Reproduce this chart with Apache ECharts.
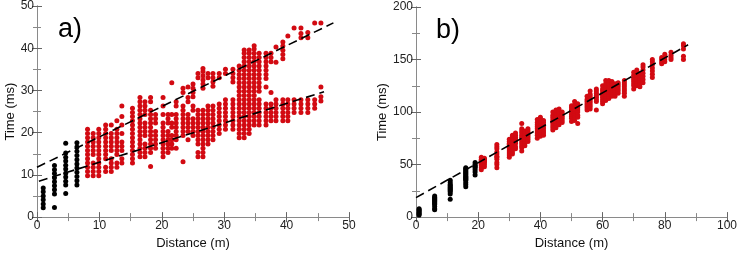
<!DOCTYPE html>
<html>
<head>
<meta charset="utf-8">
<script src="https://cdn.jsdelivr.net/npm/echarts@6/dist/echarts.min.js"></script>
<style>
  html, body { margin: 0; padding: 0; background: #fff; }
  #chart { width: 740px; height: 255px; }
</style>
</head>
<body>
<div id="chart"></div>
<script>
// panel a: columns of [distance, [times...]]
const aBlack = [
  [1.0, [2.2, 3.1, 4.1, 5.0, 6.0, 6.9]],
  [2.8, [2.3, 5.5, 6.5, 7.4, 8.4, 9.3, 10.3, 11.2, 12.2]],
  [4.6, [5.6, 7.6, 8.5, 9.5, 10.4, 11.4, 12.3, 13.3, 14.2, 15.2, 17.5]],
  [6.4, [7.6, 8.6, 9.6, 10.6, 11.6, 12.6, 13.6, 14.6, 15.6, 16.6, 17.6]]
];
const aRed = [
  [8.1, [9.8, 10.8, 11.8, 12.8, 13.8, 14.8, 15.8, 16.8, 17.8, 18.8, 19.8, 20.8]],
  [9.0, [9.8, 10.8, 11.8, 12.8, 14.8, 15.8, 16.8, 17.8, 18.8, 19.8]],
  [9.9, [9.8, 10.8, 11.8, 12.8, 13.8, 14.8, 15.8, 16.8, 17.8, 18.8, 19.8, 20.8]],
  [11.0, [10.8, 11.8, 13.8, 14.8, 15.8, 16.8, 17.8, 18.8, 19.8, 20.8, 21.8]],
  [11.9, [10.8, 11.8, 12.8, 13.8, 15.8, 16.8, 17.8, 18.8, 19.8, 21.8]],
  [12.8, [11.8, 12.8, 14.8, 15.8, 16.8, 17.8, 18.8, 19.8, 20.8, 22.8]],
  [13.6, [12.8, 13.8, 15.8, 16.8, 17.8, 19.8, 21.8, 23.8, 26.3]],
  [15.3, [12.8, 13.8, 14.8, 15.8, 16.8, 17.8, 18.8, 19.8, 20.8, 21.8, 22.8, 23.8, 24.8, 25.8]],
  [16.5, [14.3, 15.3, 16.3, 17.3, 18.3, 19.3, 20.3, 21.3, 22.3, 23.3, 24.3, 25.3, 26.3, 27.3, 28.3]],
  [17.3, [14.3, 15.3, 16.3, 17.3, 19.3, 20.3, 21.3, 22.3, 24.3, 25.3, 26.3, 27.3]],
  [18.2, [12.0, 15.3, 16.3, 17.3, 18.3, 19.3, 20.3, 21.3, 22.3, 23.3, 24.3, 25.3, 27.3, 28.3]],
  [19.0, [16.3, 17.3, 18.3, 19.3, 20.3, 22.3, 23.3, 24.3]],
  [20.2, [14.3, 15.3, 16.3, 17.3, 18.3, 19.3, 20.3, 21.3, 22.3, 24.3, 26.3, 28.3]],
  [21.0, [15.3, 16.3, 17.3, 18.3, 19.3, 20.3, 22.3, 23.3, 24.3]],
  [21.6, [16.3, 17.3, 18.3, 19.3, 21.3, 22.3, 24.3, 31.8]],
  [22.3, [16.3, 18.3, 19.3, 20.3, 21.3, 22.3, 23.3, 24.3, 26.3, 27.3]],
  [23.4, [13.1, 19.3, 20.3, 21.3, 22.3, 23.3, 24.3, 25.3, 26.3, 29.5, 30.5]],
  [24.2, [18.3, 20.3, 21.3, 22.3, 23.3, 24.3, 27.3, 28.3, 30.8]],
  [25.0, [19.3, 20.3, 21.3, 22.3, 23.3, 25.3, 26.3, 28.5, 29.5, 30.5, 31.5]],
  [25.8, [14.3, 15.3, 17.3, 18.3, 19.3, 20.3, 21.3, 22.3, 23.3, 24.3, 25.3, 33.0, 34.0]],
  [26.6, [14.3, 15.3, 16.3, 17.3, 18.3, 19.3, 20.3, 21.3, 22.3, 23.3, 24.3, 25.3, 30.5, 31.5, 32.5, 33.5, 34.5, 35.2]],
  [27.4, [17.3, 18.3, 19.3, 20.3, 21.3, 22.3, 23.3, 24.3, 25.3, 26.3, 33.0, 34.0]],
  [28.2, [18.3, 19.3, 20.3, 21.3, 22.3, 23.3, 24.3, 25.3, 26.3, 31.0, 32.0, 33.0, 34.0]],
  [29.2, [19.8, 20.8, 21.8, 22.8, 23.8, 24.8, 25.8, 26.8, 33.0, 34.0]],
  [30.2, [20.8, 21.8, 22.8, 23.8, 24.8, 25.8, 26.8, 27.8, 34.0, 35.0]],
  [31.4, [20.8, 21.8, 22.8, 23.8, 24.8, 25.8, 26.8, 27.8, 32.0, 33.0, 34.0, 35.0]],
  [32.4, [18.8, 19.8, 20.8, 21.8, 22.8, 23.8, 24.8, 25.8, 26.8, 27.8, 28.8, 29.8, 30.8, 31.8, 32.8, 33.8, 34.8, 35.8]],
  [33.2, [18.8, 19.8, 20.8, 21.8, 22.8, 23.8, 24.8, 25.8, 26.8, 27.8, 28.8, 29.8, 30.8, 31.8, 32.8, 33.8, 34.8, 35.8, 36.8, 37.8, 38.8, 39.6]],
  [34.0, [19.8, 20.8, 21.8, 22.8, 23.8, 24.8, 25.8, 26.8, 27.8, 28.8, 29.8, 30.8, 31.8, 32.8, 33.8, 34.8, 35.8, 36.8, 37.8, 38.8, 39.6]],
  [34.8, [21.8, 22.8, 23.8, 24.8, 25.8, 26.8, 27.8, 28.8, 29.8, 30.8, 31.8, 32.8, 33.8, 34.8, 35.8, 36.8, 37.8, 38.8, 39.8, 40.6]],
  [35.6, [21.8, 22.8, 23.8, 24.8, 25.8, 26.8, 27.8, 29.8, 30.8, 31.8, 32.8, 33.8, 34.8, 35.8, 36.8, 37.8, 38.8]],
  [36.7, [21.8, 22.8, 23.8, 24.8, 25.8, 26.8, 30.8, 32.8, 33.8, 34.8, 35.8, 36.8, 37.8, 38.8]],
  [37.5, [22.8, 23.8, 24.8, 25.8, 26.8, 29.5, 36.8, 37.8, 38.8]],
  [38.3, [22.8, 23.8, 24.8, 25.8, 26.8, 27.8, 36.7, 40.3]],
  [39.4, [22.8, 23.8, 24.8, 25.8, 26.8, 27.8, 37.5, 38.5, 39.5, 40.5, 41.5]],
  [40.2, [22.8, 23.8, 24.8, 25.8, 26.8, 27.8, 42.9]],
  [41.2, [24.8, 25.8, 26.8, 27.8, 44.8]],
  [42.3, [24.8, 25.8, 26.8, 27.8, 42.5, 43.5, 44.8]],
  [43.4, [24.8, 25.8, 26.8, 27.8, 42.5, 43.7]],
  [44.5, [25.8, 26.8, 27.8, 46.0]],
  [45.5, [27.5, 28.5, 30.8, 46.0]]
];
const aFitUpper = [[0, 11.8], [47.5, 46]];
const aFitLower = [[0.3, 8.5], [46, 29.7]];

// panel b
const bBlack = [
  [1, [2, 3, 4, 5, 6, 7, 8]],
  [6, [7, 8, 10, 12, 13, 14, 15, 16, 17, 18, 19, 20]],
  [11, [17, 22, 24, 25, 26, 27, 28, 29, 30, 31, 33, 35]],
  [16, [29, 31, 33, 35, 36, 37, 38, 39, 40, 41, 42, 43, 44, 45, 46, 47]],
  [19, [40, 43, 45, 47, 48, 49, 50, 52]]
];
const bRed = [
  [21, [45, 47, 49, 50, 51, 52, 53, 54, 55, 57]],
  [22, [48, 50, 52, 53, 54, 55, 56]],
  [26, [47, 50, 52, 55, 57, 58, 60, 62, 65, 67, 69]],
  [30, [57, 59, 61, 63, 65, 67, 69, 70, 72, 74]],
  [31, [60, 62, 64, 66, 68, 70, 72, 74, 76, 78]],
  [32, [65, 67, 70, 72, 74, 76, 78, 80]],
  [34, [63, 66, 68, 70, 72, 74, 76, 78, 80, 82, 84, 89]],
  [35, [68, 70, 72, 74, 76, 78, 80, 82]],
  [36, [72, 74, 76, 78, 80, 82, 84]],
  [39, [75, 78, 80, 82, 84, 86, 88, 90, 93]],
  [40, [77, 79, 81, 83, 85, 87, 89, 91, 93, 95]],
  [41, [78, 80, 82, 84, 86, 88, 90, 92]],
  [44, [83, 85, 87, 89, 91, 93, 95, 97, 100]],
  [45, [85, 87, 89, 91, 93, 95, 97, 99, 102]],
  [46, [88, 90, 92, 94, 96, 98, 100, 103]],
  [47, [90, 92, 94, 96, 98, 100]],
  [50, [91, 94, 96, 98, 100, 102, 104, 106]],
  [51, [92, 95, 97, 99, 101, 103, 105, 107, 110]],
  [52, [89, 95, 97, 100, 102, 104, 108]],
  [55, [102, 104, 106, 108, 110, 112, 115]],
  [56, [103, 105, 107, 109, 111, 113, 115, 117, 120]],
  [58, [102, 110, 112, 114, 116, 118, 120, 122]],
  [60, [108, 110, 112, 114, 116, 118, 120, 122, 125]],
  [61, [111, 113, 115, 117, 119, 121, 123, 125, 127, 130]],
  [62, [113, 115, 117, 119, 121, 123, 125, 127, 130]],
  [63, [115, 117, 119, 121, 123, 125, 127, 129]],
  [64, [115, 117, 119, 121, 123, 125, 127]],
  [65, [118, 120, 122, 124, 126, 128]],
  [67, [115, 118, 120, 122, 124, 126, 128, 130]],
  [70, [122, 125, 127, 129, 131, 133, 135, 138]],
  [71, [125, 127, 129, 131, 133, 135, 137, 140]],
  [72, [124, 127, 130, 132, 134, 137]],
  [73, [128, 131, 134, 137, 140, 143, 145]],
  [76, [133, 136, 139, 142, 145, 148, 150]],
  [79, [146, 148, 150, 152]],
  [80, [148, 150, 152, 155]],
  [82, [150, 152, 154, 157]],
  [86, [150, 153, 160, 163, 165]]
];
const bFit = [[0, 18.5], [87.5, 164]];

const RED = "#d20a12";
const FONT = "Liberation Sans";

const chart = echarts.init(document.getElementById("chart"));

// flatten columns into [x, y] points
function pts(cols) {
  const out = [];
  cols.forEach(([x, ys]) => ys.forEach((y) => out.push([x, y])));
  return out;
}

function axisPair(gridIndex, min, max, interval, name, nameGap, isX) {
  const main = {
    type: "value",
    gridIndex,
    min,
    max,
    interval,
    name,
    nameLocation: "middle",
    nameGap,
    nameTextStyle: { fontFamily: FONT, fontSize: 13, color: "#111" },
    axisLine: { show: true, lineStyle: { color: "#8a8a8a", width: 1 } },
    axisTick: { show: true, inside: true, length: 5, lineStyle: { color: "#666" } },
    minorTick: { show: true, splitNumber: 2, length: 4, lineStyle: { color: "#888" } },
    axisLabel: { fontFamily: FONT, fontSize: 12, color: "#222", margin: 3 },
    splitLine: { show: false },
  };
  if (!isX) main.nameRotate = 90;
  // mirrored axis on the opposite side (ticks only)
  const mirror = {
    type: "value",
    gridIndex,
    min,
    max,
    interval,
    position: isX ? "top" : "right",
    axisLine: { show: true, lineStyle: { color: "#8a8a8a", width: 1 } },
    axisTick: { show: true, inside: true, length: 5, lineStyle: { color: "#666" } },
    minorTick: { show: true, splitNumber: 2, length: 4, lineStyle: { color: "#888" } },
    axisLabel: { show: false },
    splitLine: { show: false },
  };
  return [main, mirror];
}

function dots(data, color, xAxisIndex, yAxisIndex, size) {
  return {
    type: "scatter",
    xAxisIndex,
    yAxisIndex,
    data,
    symbol: "circle",
    symbolSize: size,
    itemStyle: { color, opacity: 1 },
    silent: true,
    z: 2,
  };
}

function fit(data, xAxisIndex, yAxisIndex) {
  return {
    type: "line",
    xAxisIndex,
    yAxisIndex,
    data,
    showSymbol: false,
    silent: true,
    lineStyle: { color: "#000", width: 1.6, type: [9, 5] },
    z: 3,
  };
}

const option = {
  animation: false,
  grid: [
    { left: 37, right: 391, top: 6, bottom: 31 },
    { left: 416, right: 12, top: 7, bottom: 31 },
  ],
  xAxis: [
    ...axisPair(0, 0, 50, 10, "Distance (m)", 13, true),
    ...axisPair(1, 0, 100, 20, "Distance (m)", 13, true),
  ],
  yAxis: [
    ...axisPair(0, 0, 50, 10, "Time (ms)", 19, false),
    ...axisPair(1, 0, 200, 50, "Time (ms)", 25, false),
  ],
  graphic: [
    { type: "text", left: 58, top: 16, style: { text: "a)", fontFamily: FONT, fontSize: 27, fill: "#000" } },
    { type: "text", left: 436, top: 17, style: { text: "b)", fontFamily: FONT, fontSize: 27, fill: "#000" } },
  ],
  series: [
    dots(pts(aBlack), "#000", 0, 0, 5),
    dots(pts(aRed), RED, 0, 0, 5),
    fit(aFitUpper, 0, 0),
    fit(aFitLower, 0, 0),
    dots(pts(bBlack), "#000", 2, 2, 5),
    dots(pts(bRed), RED, 2, 2, 5),
    fit(bFit, 2, 2),
  ],
};

chart.setOption(option);
</script>
</body>
</html>
